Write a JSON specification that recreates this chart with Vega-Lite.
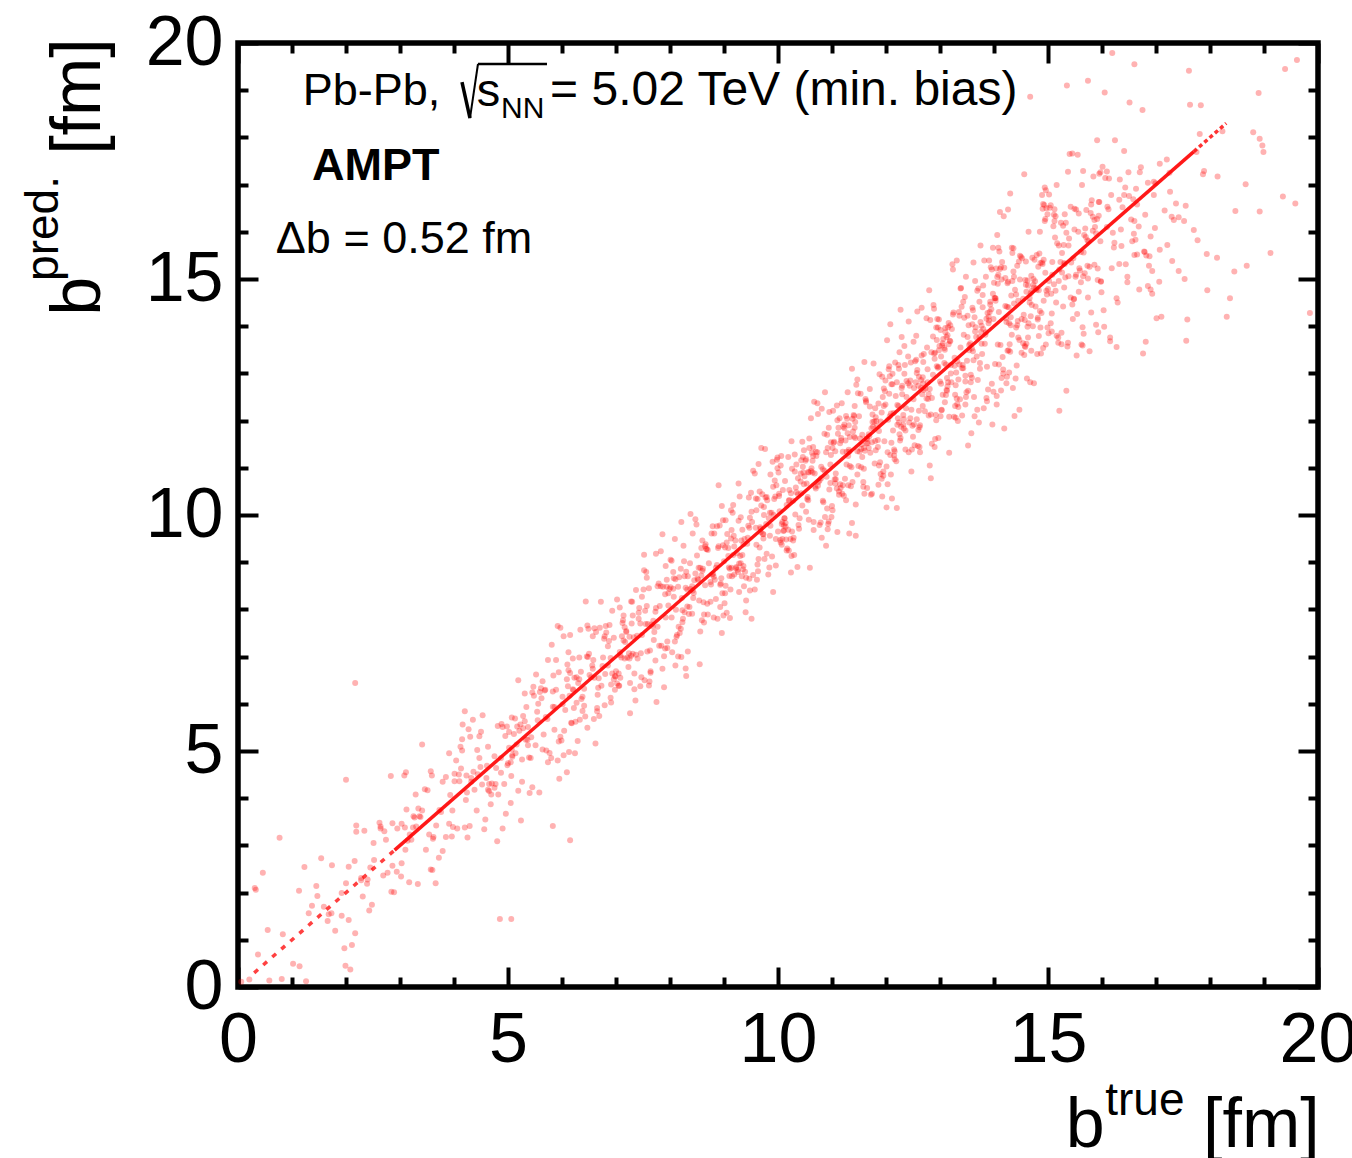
{
  "$schema": "https://vega.github.io/schema/vega-lite/v6.json",
  "width": 1080,
  "height": 944,
  "autosize": "none",
  "padding": {"left": 238, "top": 43, "right": 34, "bottom": 171},
  "background": "white",
  "config": {
    "font": "Liberation Sans",
    "view": {"stroke": "black", "strokeWidth": 5.5},
    "axis": {"grid": false, "domain": false, "title": null, "tickColor": "black", "tickWidth": 4, "labelColor": "black"}
  },
  "resolve": {"axis": {"x": "independent", "y": "independent"}},
  "datasets": {
    "pts": [
      {"t":0.37,"p":0.69},{"t":0.81,"p":0.17},{"t":0.06,"p":0.11},{"t":0.55,"p":1.21},
      {"t":1.92,"p":1.51},{"t":1.23,"p":2.54},{"t":1.68,"p":1.54},{"t":1.14,"p":0.44},{"t":1.47,"p":1.93},{"t":1.99,"p":0.45},{"t":1.31,"p":1.56},{"t":1.74,"p":2.58},{"t":1.02,"p":0.49},{"t":1.59,"p":1.7},
      {"t":2.86,"p":2.57},{"t":2.19,"p":3.29},{"t":2.43,"p":1.62},{"t":2.71,"p":3.3},{"t":2.28,"p":2.26},{"t":2.95,"p":3.36},{"t":2.11,"p":0.89},{"t":2.64,"p":3.36},{"t":2.39,"p":2.19},{"t":2.83,"p":4.47},{"t":2.05,"p":1.42},{"t":2.52,"p":2.69},{"t":2.77,"p":2.42},{"t":2.34,"p":3.31},{"t":2.16,"p":2.67},{"t":2.89,"p":2.01},{"t":2.45,"p":2.53},
      {"t":3.61,"p":3.14},{"t":3.08,"p":4.48},{"t":3.97,"p":3.74},{"t":3.25,"p":3.62},{"t":3.57,"p":2.49},{"t":3.73,"p":3.75},{"t":3.12,"p":3.76},{"t":3.48,"p":2.91},{"t":3.91,"p":4.95},{"t":3.21,"p":3.12},{"t":3.66,"p":2.2},{"t":3.03,"p":3.46},{"t":3.38,"p":3.6},{"t":3.85,"p":3.18},{"t":3.29,"p":4.08},{"t":3.54,"p":3.23},{"t":3.79,"p":4.35},{"t":3.17,"p":2.22},{"t":3.93,"p":4.07},{"t":3.41,"p":5.14},{"t":3.62,"p":3.18},{"t":3.09,"p":3.38},{"t":3.76,"p":3.71},{"t":3.33,"p":2.18},
      {"t":4.88,"p":5.57},{"t":4.22,"p":3.96},{"t":4.5,"p":5.41},{"t":4.69,"p":4.08},{"t":4.01,"p":4.36},{"t":4.44,"p":4.51},{"t":4.96,"p":3.67},{"t":4.27,"p":5.46},{"t":4.6,"p":4.43},{"t":4.13,"p":4.63},{"t":4.82,"p":4.08},{"t":4.36,"p":4.56},{"t":4.7,"p":4.31},{"t":4.04,"p":4.8},{"t":4.58,"p":3.55},{"t":4.9,"p":5.51},{"t":4.24,"p":4.12},{"t":4.47,"p":4.85},{"t":4.8,"p":3.09},{"t":4.15,"p":5.01},{"t":4.65,"p":4.15},{"t":4.32,"p":4.35},{"t":4.98,"p":5.52},{"t":4.2,"p":3.38},{"t":4.53,"p":5.76},{"t":4.87,"p":4.54},{"t":4.1,"p":4.36},{"t":4.42,"p":3.74},{"t":4.75,"p":4.89},{"t":4.3,"p":5.3},{"t":4.63,"p":4.18},
      {"t":5.07,"p":5.03},{"t":5.94,"p":6.67},{"t":5.26,"p":4.35},{"t":5.56,"p":6.0},{"t":5.37,"p":5.12},{"t":5.81,"p":7.25},{"t":5.06,"p":4.47},{"t":5.55,"p":5.65},{"t":5.92,"p":4.8},{"t":5.23,"p":5.56},{"t":5.68,"p":6.28},{"t":5.14,"p":4.95},{"t":5.47,"p":6.36},{"t":5.99,"p":5.22},{"t":5.31,"p":5.63},{"t":5.74,"p":4.76},{"t":5.02,"p":5.07},{"t":5.59,"p":6.25},{"t":5.86,"p":5.45},{"t":5.19,"p":6.5},{"t":5.43,"p":5.29},{"t":5.71,"p":5.01},{"t":5.28,"p":5.74},{"t":5.95,"p":4.41},{"t":5.11,"p":5.36},{"t":5.64,"p":6.48},{"t":5.39,"p":4.86},{"t":5.83,"p":5.94},{"t":5.05,"p":4.76},{"t":5.52,"p":6.62},{"t":5.77,"p":4.96},{"t":5.34,"p":5.93},{"t":5.16,"p":5.14},{"t":5.89,"p":6.3},{"t":5.45,"p":4.23},{"t":5.61,"p":6.33},{"t":5.08,"p":4.88},{"t":5.97,"p":7.61},
      {"t":6.25,"p":5.62},{"t":6.57,"p":6.74},{"t":6.73,"p":6.38},{"t":6.12,"p":7.09},{"t":6.48,"p":6.99},{"t":6.91,"p":6.03},{"t":6.21,"p":6.29},{"t":6.66,"p":6.19},{"t":6.03,"p":7.43},{"t":6.38,"p":6.15},{"t":6.85,"p":7.22},{"t":6.29,"p":5.21},{"t":6.54,"p":6.56},{"t":6.79,"p":7.43},{"t":6.17,"p":5.6},{"t":6.93,"p":7.97},{"t":6.41,"p":6.32},{"t":6.62,"p":5.16},{"t":6.09,"p":6.52},{"t":6.76,"p":6.98},{"t":6.33,"p":5.66},{"t":6.88,"p":7.67},{"t":6.22,"p":5.91},{"t":6.5,"p":7.06},{"t":6.69,"p":5.74},{"t":6.01,"p":6.15},{"t":6.44,"p":8.17},{"t":6.96,"p":6.52},{"t":6.27,"p":6.56},{"t":6.6,"p":6.55},{"t":6.13,"p":4.98},{"t":6.82,"p":7.51},{"t":6.36,"p":6.1},{"t":6.7,"p":7.61},{"t":6.04,"p":5.43},{"t":6.58,"p":6.93},{"t":6.9,"p":6.97},{"t":6.24,"p":4.95},{"t":6.47,"p":7.66},{"t":6.8,"p":6.63},{"t":6.15,"p":6.65},{"t":6.65,"p":5.91},{"t":6.32,"p":6.52},{"t":6.98,"p":6.59},{"t":6.2,"p":6.96},
      {"t":7.53,"p":6.5},{"t":7.87,"p":8.48},{"t":7.1,"p":6.98},{"t":7.42,"p":7.8},{"t":7.75,"p":6.04},{"t":7.3,"p":8.16},{"t":7.63,"p":7.13},{"t":7.07,"p":7.1},{"t":7.94,"p":8.48},{"t":7.26,"p":6.44},{"t":7.56,"p":8.79},{"t":7.37,"p":7.04},{"t":7.81,"p":8.07},{"t":7.06,"p":6.38},{"t":7.55,"p":7.69},{"t":7.92,"p":8.92},{"t":7.23,"p":6.78},{"t":7.68,"p":7.64},{"t":7.14,"p":7.87},{"t":7.47,"p":6.56},{"t":7.99,"p":8.43},{"t":7.31,"p":7.06},{"t":7.74,"p":9.18},{"t":7.02,"p":6.43},{"t":7.59,"p":7.69},{"t":7.86,"p":6.74},{"t":7.19,"p":7.52},{"t":7.43,"p":8.03},{"t":7.71,"p":7.52},{"t":7.28,"p":8.17},{"t":7.95,"p":7.18},{"t":7.11,"p":7.43},{"t":7.64,"p":6.66},{"t":7.39,"p":7.44},{"t":7.83,"p":8.49},{"t":7.05,"p":6.64},{"t":7.52,"p":8.83},{"t":7.77,"p":7.63},{"t":7.34,"p":6.64},{"t":7.16,"p":7.62},{"t":7.89,"p":6.35},{"t":7.45,"p":7.7},{"t":7.61,"p":8.45},{"t":7.08,"p":6.55},{"t":7.97,"p":8.08},{"t":7.25,"p":6.96},{"t":7.57,"p":8.67},{"t":7.73,"p":6.92},{"t":7.12,"p":7.71},{"t":7.48,"p":7.46},{"t":7.91,"p":8.32},
      {"t":8.21,"p":6.99},{"t":8.66,"p":9.38},{"t":8.03,"p":7.83},{"t":8.38,"p":10.02},{"t":8.85,"p":8.22},{"t":8.29,"p":8.46},{"t":8.54,"p":8.19},{"t":8.79,"p":9.76},{"t":8.17,"p":8.68},{"t":8.93,"p":8.05},{"t":8.41,"p":8.49},{"t":8.62,"p":8.15},{"t":8.09,"p":9.49},{"t":8.76,"p":8.53},{"t":8.33,"p":8.7},{"t":8.88,"p":7.8},{"t":8.22,"p":8.24},{"t":8.5,"p":9.14},{"t":8.69,"p":8.12},{"t":8.01,"p":9.05},{"t":8.44,"p":8.35},{"t":8.96,"p":7.5},{"t":8.27,"p":8.7},{"t":8.6,"p":8.82},{"t":8.13,"p":7.46},{"t":8.82,"p":9.61},{"t":8.36,"p":8.05},{"t":8.7,"p":9.26},{"t":8.04,"p":7.09},{"t":8.58,"p":8.72},{"t":8.9,"p":10.63},{"t":8.24,"p":7.8},{"t":8.47,"p":8.76},{"t":8.8,"p":8.75},{"t":8.15,"p":7.0},{"t":8.65,"p":9.34},{"t":8.32,"p":8.06},{"t":8.98,"p":9.89},{"t":8.2,"p":7.59},{"t":8.53,"p":8.88},{"t":8.87,"p":8.94},{"t":8.1,"p":6.81},{"t":8.42,"p":9.61},{"t":8.75,"p":8.58},{"t":8.3,"p":8.8},{"t":8.63,"p":7.89},{"t":8.07,"p":8.27},{"t":8.94,"p":8.55},{"t":8.26,"p":9.02},{"t":8.56,"p":7.53},{"t":8.37,"p":8.98},{"t":8.81,"p":8.69},{"t":8.06,"p":8.44},{"t":8.55,"p":6.84},{"t":8.92,"p":9.78},{"t":8.23,"p":7.73},
      {"t":9.68,"p":9.71},{"t":9.14,"p":9.68},{"t":9.47,"p":8.65},{"t":9.99,"p":11.22},{"t":9.31,"p":8.98},{"t":9.74,"p":10.0},{"t":9.02,"p":8.34},{"t":9.59,"p":9.73},{"t":9.86,"p":10.86},{"t":9.19,"p":8.74},{"t":9.43,"p":9.39},{"t":9.71,"p":10.44},{"t":9.28,"p":8.37},{"t":9.95,"p":10.39},{"t":9.11,"p":8.86},{"t":9.64,"p":11.08},{"t":9.39,"p":8.8},{"t":9.83,"p":9.93},{"t":9.05,"p":7.93},{"t":9.52,"p":9.85},{"t":9.77,"p":10.37},{"t":9.34,"p":9.15},{"t":9.16,"p":10.05},{"t":9.89,"p":9.12},{"t":9.45,"p":9.77},{"t":9.61,"p":8.63},{"t":9.08,"p":9.13},{"t":9.97,"p":10.63},{"t":9.25,"p":8.84},{"t":9.57,"p":10.88},{"t":9.73,"p":9.59},{"t":9.12,"p":8.42},{"t":9.48,"p":9.94},{"t":9.91,"p":8.37},{"t":9.21,"p":9.46},{"t":9.66,"p":10.5},{"t":9.03,"p":8.5},{"t":9.38,"p":9.49},{"t":9.85,"p":9.56},{"t":9.29,"p":10.39},{"t":9.54,"p":8.73},{"t":9.79,"p":10.38},{"t":9.17,"p":9.15},{"t":9.93,"p":10.34},{"t":9.41,"p":8.19},{"t":9.62,"p":10.34},{"t":9.09,"p":8.89},{"t":9.76,"p":11.4},{"t":9.33,"p":8.7},{"t":9.88,"p":10.05},{"t":9.22,"p":8.87},{"t":9.5,"p":10.47},{"t":9.69,"p":10.2},{"t":9.01,"p":8.13},{"t":9.44,"p":9.52},{"t":9.96,"p":9.49},{"t":9.27,"p":10.67},{"t":9.6,"p":9.37},{"t":9.13,"p":9.5},{"t":9.82,"p":8.74},{"t":9.36,"p":9.38},
      {"t":10.7,"p":11.34},{"t":10.04,"p":9.47},{"t":10.58,"p":11.62},{"t":10.9,"p":10.81},{"t":10.24,"p":8.78},{"t":10.47,"p":10.9},{"t":10.8,"p":11.02},{"t":10.15,"p":9.48},{"t":10.65,"p":11.44},{"t":10.32,"p":10.01},{"t":10.98,"p":11.54},{"t":10.2,"p":9.25},{"t":10.53,"p":10.67},{"t":10.87,"p":12.6},{"t":10.1,"p":9.66},{"t":10.42,"p":10.71},{"t":10.75,"p":10.7},{"t":10.3,"p":9.15},{"t":10.63,"p":11.32},{"t":10.07,"p":9.81},{"t":10.94,"p":11.85},{"t":10.26,"p":9.65},{"t":10.56,"p":10.91},{"t":10.37,"p":10.44},{"t":10.81,"p":9.52},{"t":10.06,"p":11.25},{"t":10.55,"p":10.38},{"t":10.92,"p":11.42},{"t":10.23,"p":9.49},{"t":10.68,"p":10.88},{"t":10.14,"p":9.75},{"t":10.46,"p":11.23},{"t":10.99,"p":9.96},{"t":10.31,"p":10.92},{"t":10.74,"p":10.62},{"t":10.02,"p":10.4},{"t":10.59,"p":8.88},{"t":10.86,"p":11.72},{"t":10.19,"p":9.69},{"t":10.43,"p":10.46},{"t":10.71,"p":11.25},{"t":10.28,"p":9.46},{"t":10.95,"p":12.18},{"t":10.11,"p":9.78},{"t":10.64,"p":10.9},{"t":10.39,"p":9.71},{"t":10.83,"p":10.97},{"t":10.05,"p":11.05},{"t":10.52,"p":10.07},{"t":10.77,"p":10.73},{"t":10.34,"p":11.07},{"t":10.16,"p":9.25},{"t":10.89,"p":11.33},{"t":10.45,"p":10.2},{"t":10.61,"p":12.05},{"t":10.08,"p":9.49},{"t":10.97,"p":11.07},{"t":10.25,"p":9.13},{"t":10.57,"p":10.9},{"t":10.73,"p":11.33},{"t":10.12,"p":9.93},{"t":10.48,"p":11.37},{"t":10.91,"p":10.14},{"t":10.21,"p":10.53},{"t":10.66,"p":9.68},{"t":10.03,"p":10.08},
      {"t":11.38,"p":12.04},{"t":11.85,"p":11.44},{"t":11.29,"p":12.6},{"t":11.54,"p":11.4},{"t":11.79,"p":11.09},{"t":11.17,"p":11.63},{"t":11.93,"p":10.39},{"t":11.41,"p":11.66},{"t":11.62,"p":12.46},{"t":11.09,"p":10.56},{"t":11.76,"p":11.87},{"t":11.33,"p":11.04},{"t":11.88,"p":12.98},{"t":11.22,"p":10.41},{"t":11.5,"p":12.09},{"t":11.69,"p":11.67},{"t":11.01,"p":11.42},{"t":11.44,"p":10.22},{"t":11.96,"p":12.68},{"t":11.27,"p":11.07},{"t":11.6,"p":13.24},{"t":11.13,"p":10.5},{"t":11.82,"p":11.99},{"t":11.36,"p":11.01},{"t":11.7,"p":12.67},{"t":11.04,"p":11.55},{"t":11.58,"p":10.7},{"t":11.9,"p":11.98},{"t":11.24,"p":10.77},{"t":11.47,"p":12.87},{"t":11.8,"p":11.57},{"t":11.15,"p":11.52},{"t":11.65,"p":10.57},{"t":11.32,"p":11.34},{"t":11.98,"p":12.62},{"t":11.2,"p":10.63},{"t":11.53,"p":12.57},{"t":11.87,"p":11.78},{"t":11.1,"p":9.64},{"t":11.42,"p":11.85},{"t":11.75,"p":11.97},{"t":11.3,"p":10.63},{"t":11.63,"p":12.42},{"t":11.07,"p":10.76},{"t":11.94,"p":12.5},{"t":11.26,"p":10.31},{"t":11.56,"p":11.7},{"t":11.37,"p":13.1},{"t":11.81,"p":11.37},{"t":11.06,"p":11.35},{"t":11.55,"p":11.5},{"t":11.92,"p":10.77},{"t":11.23,"p":11.92},{"t":11.68,"p":11.42},{"t":11.14,"p":12.05},{"t":11.47,"p":10.86},{"t":11.99,"p":12.34},{"t":11.31,"p":11.38},{"t":11.74,"p":10.45},{"t":11.02,"p":12.21},{"t":11.59,"p":11.42},{"t":11.86,"p":12.36},{"t":11.19,"p":10.45},{"t":11.43,"p":11.63},{"t":11.71,"p":11.32},{"t":11.28,"p":12.04},{"t":11.95,"p":10.92},{"t":11.11,"p":11.72},{"t":11.64,"p":11.52},{"t":11.39,"p":11.77},
      {"t":12.83,"p":10.78},{"t":12.05,"p":13.09},{"t":12.52,"p":11.92},{"t":12.77,"p":12.81},{"t":12.34,"p":12.99},{"t":12.16,"p":11.18},{"t":12.89,"p":14.37},{"t":12.45,"p":12.05},{"t":12.61,"p":12.93},{"t":12.08,"p":11.27},{"t":12.97,"p":13.14},{"t":12.25,"p":13.45},{"t":12.57,"p":12.03},{"t":12.73,"p":12.68},{"t":12.12,"p":12.99},{"t":12.48,"p":11.39},{"t":12.91,"p":13.44},{"t":12.21,"p":11.91},{"t":12.66,"p":14.39},{"t":12.03,"p":11.33},{"t":12.38,"p":12.5},{"t":12.85,"p":11.51},{"t":12.29,"p":12.69},{"t":12.54,"p":13.26},{"t":12.79,"p":12.56},{"t":12.17,"p":13.23},{"t":12.93,"p":12.01},{"t":12.41,"p":12.79},{"t":12.62,"p":11.44},{"t":12.09,"p":12.15},{"t":12.76,"p":13.55},{"t":12.33,"p":11.83},{"t":12.88,"p":14.45},{"t":12.22,"p":12.05},{"t":12.5,"p":11.66},{"t":12.69,"p":13.24},{"t":12.01,"p":10.16},{"t":12.44,"p":12.74},{"t":12.96,"p":13.97},{"t":12.27,"p":11.63},{"t":12.6,"p":12.74},{"t":12.13,"p":11.79},{"t":12.82,"p":14.13},{"t":12.36,"p":11.39},{"t":12.7,"p":13.41},{"t":12.04,"p":12.02},{"t":12.58,"p":13.07},{"t":12.9,"p":11.44},{"t":12.24,"p":13.1},{"t":12.47,"p":12.23},{"t":12.8,"p":14.76},{"t":12.15,"p":11.39},{"t":12.65,"p":12.86},{"t":12.32,"p":11.91},{"t":12.98,"p":14.14},{"t":12.2,"p":12.81},{"t":12.53,"p":11.48},{"t":12.87,"p":12.97},{"t":12.1,"p":11.53},{"t":12.42,"p":14.1},{"t":12.75,"p":12.47},{"t":12.3,"p":12.74},{"t":12.63,"p":11.33},{"t":12.07,"p":12.09},{"t":12.94,"p":13.71},{"t":12.26,"p":11.58},{"t":12.56,"p":13.8},{"t":12.37,"p":12.26},{"t":12.81,"p":11.05},{"t":12.06,"p":12.57},{"t":12.55,"p":12.81},{"t":12.92,"p":12.12},{"t":12.23,"p":13.18},{"t":12.68,"p":12.31},
      {"t":13.14,"p":13.81},{"t":13.47,"p":12.34},{"t":13.99,"p":14.15},{"t":13.31,"p":15.39},{"t":13.74,"p":13.22},{"t":13.02,"p":13.36},{"t":13.59,"p":13.53},{"t":13.86,"p":12.48},{"t":13.19,"p":14.02},{"t":13.43,"p":13.11},{"t":13.71,"p":14.8},{"t":13.28,"p":12.55},{"t":13.95,"p":14.36},{"t":13.11,"p":13.19},{"t":13.64,"p":12.09},{"t":13.39,"p":14.81},{"t":13.83,"p":13.63},{"t":13.05,"p":13.64},{"t":13.52,"p":12.63},{"t":13.77,"p":14.01},{"t":13.34,"p":12.87},{"t":13.16,"p":14.07},{"t":13.89,"p":12.66},{"t":13.45,"p":14.18},{"t":13.61,"p":13.47},{"t":13.08,"p":13.54},{"t":13.97,"p":11.92},{"t":13.25,"p":14.29},{"t":13.57,"p":12.97},{"t":13.73,"p":13.77},{"t":13.12,"p":13.77},{"t":13.48,"p":12.5},{"t":13.91,"p":15.39},{"t":13.21,"p":12.81},{"t":13.66,"p":13.98},{"t":13.03,"p":12.22},{"t":13.38,"p":13.55},{"t":13.85,"p":15.05},{"t":13.29,"p":12.75},{"t":13.54,"p":13.49},{"t":13.79,"p":14.66},{"t":13.17,"p":12.08},{"t":13.93,"p":14.46},{"t":13.41,"p":13.11},{"t":13.62,"p":15.35},{"t":13.09,"p":12.39},{"t":13.76,"p":13.88},{"t":13.33,"p":11.99},{"t":13.88,"p":14.28},{"t":13.22,"p":13.94},{"t":13.5,"p":13.27},{"t":13.69,"p":14.75},{"t":13.01,"p":12.09},{"t":13.44,"p":13.82},{"t":13.96,"p":12.78},{"t":13.27,"p":13.33},{"t":13.6,"p":14.39},{"t":13.13,"p":12.63},{"t":13.82,"p":15.39},{"t":13.36,"p":13.19},{"t":13.7,"p":12.86},{"t":13.04,"p":13.59},{"t":13.58,"p":11.73},{"t":13.9,"p":14.2},{"t":13.24,"p":14.25},{"t":13.47,"p":12.83},{"t":13.8,"p":13.94},{"t":13.15,"p":12.81},{"t":13.65,"p":14.96},{"t":13.32,"p":12.35},{"t":13.98,"p":14.69},{"t":13.2,"p":13.18},{"t":13.53,"p":14.02},{"t":13.87,"p":12.41},{"t":13.1,"p":13.96},{"t":13.42,"p":13.18},{"t":13.75,"p":15.71},
      {"t":14.3,"p":13.46},{"t":14.63,"p":14.86},{"t":14.07,"p":13.61},{"t":14.94,"p":16.23},{"t":14.26,"p":14.94},{"t":14.56,"p":13.39},{"t":14.37,"p":14.48},{"t":14.81,"p":14.18},{"t":14.06,"p":15.93},{"t":14.55,"p":14.24},{"t":14.92,"p":15.41},{"t":14.23,"p":12.79},{"t":14.68,"p":14.7},{"t":14.14,"p":14.99},{"t":14.47,"p":13.71},{"t":14.99,"p":16.37},{"t":14.31,"p":14.19},{"t":14.74,"p":12.79},{"t":14.02,"p":14.59},{"t":14.59,"p":14.88},{"t":14.86,"p":13.97},{"t":14.19,"p":15.24},{"t":14.43,"p":14.02},{"t":14.71,"p":15.45},{"t":14.28,"p":13.02},{"t":14.95,"p":15.13},{"t":14.11,"p":16.42},{"t":14.64,"p":14.06},{"t":14.39,"p":14.77},{"t":14.83,"p":14.76},{"t":14.05,"p":12.52},{"t":14.52,"p":15.44},{"t":14.77,"p":14.42},{"t":14.34,"p":15.55},{"t":14.16,"p":13.35},{"t":14.89,"p":15.35},{"t":14.45,"p":14.54},{"t":14.61,"p":12.89},{"t":14.08,"p":15.66},{"t":14.97,"p":14.75},{"t":14.25,"p":14.91},{"t":14.57,"p":13.58},{"t":14.73,"p":15.0},{"t":14.12,"p":13.6},{"t":14.48,"p":15.49},{"t":14.91,"p":13.54},{"t":14.21,"p":15.02},{"t":14.66,"p":14.5},{"t":14.03,"p":14.54},{"t":14.38,"p":12.1},{"t":14.85,"p":16.0},{"t":14.29,"p":13.62},{"t":14.54,"p":14.58},{"t":14.79,"p":15.51},{"t":14.17,"p":13.08},{"t":14.93,"p":16.57},{"t":14.41,"p":13.97},{"t":14.62,"p":14.97},{"t":14.09,"p":13.19},{"t":14.76,"p":14.95},{"t":14.33,"p":15.66},{"t":14.88,"p":14.28},{"t":14.22,"p":14.17},{"t":14.5,"p":15.47},{"t":14.69,"p":13.48},{"t":14.01,"p":14.6},{"t":14.44,"p":14.11},{"t":14.96,"p":16.88},{"t":14.27,"p":13.49},{"t":14.6,"p":14.73},{"t":14.13,"p":12.64},{"t":14.82,"p":15.26},{"t":14.36,"p":15.16},{"t":14.7,"p":14.45},{"t":14.04,"p":15.22},{"t":14.58,"p":13.56},{"t":14.9,"p":15.32},{"t":14.24,"p":12.93},
      {"t":15.47,"p":15.44},{"t":15.8,"p":16.58},{"t":15.15,"p":14.5},{"t":15.65,"p":17.29},{"t":15.32,"p":15.03},{"t":15.98,"p":14.95},{"t":15.2,"p":15.71},{"t":15.53,"p":13.38},{"t":15.87,"p":16.1},{"t":15.1,"p":16.12},{"t":15.42,"p":14.61},{"t":15.75,"p":15.8},{"t":15.3,"p":14.82},{"t":15.63,"p":16.99},{"t":15.07,"p":13.89},{"t":15.94,"p":16.63},{"t":15.26,"p":15.14},{"t":15.56,"p":16.0},{"t":15.37,"p":13.65},{"t":15.81,"p":16.67},{"t":15.06,"p":14.69},{"t":15.55,"p":17.63},{"t":15.92,"p":14.98},{"t":15.23,"p":15.36},{"t":15.68,"p":15.12},{"t":15.14,"p":16.33},{"t":15.49,"p":16.05},{"t":15.99,"p":14.72},{"t":15.31,"p":15.32},{"t":15.74,"p":15.01},{"t":15.02,"p":16.79},{"t":15.59,"p":15.18},{"t":15.86,"p":16.25},{"t":15.19,"p":13.65},{"t":15.43,"p":15.35},{"t":15.71,"p":16.46},{"t":15.28,"p":14.42},{"t":15.95,"p":17.23},{"t":15.11,"p":14.89},{"t":15.64,"p":13.59},{"t":15.39,"p":15.86},{"t":15.83,"p":16.02},{"t":15.05,"p":14.06},{"t":15.52,"p":16.47},{"t":15.77,"p":15.26},{"t":15.34,"p":15.98},{"t":15.16,"p":13.8},{"t":15.89,"p":15.97},{"t":15.45,"p":17.66},{"t":15.61,"p":14.93},{"t":15.08,"p":15.36},{"t":15.97,"p":15.8},{"t":15.25,"p":13.62},{"t":15.57,"p":16.39},{"t":15.73,"p":15.28},{"t":15.12,"p":16.23},{"t":15.48,"p":14.57},{"t":15.91,"p":16.27},{"t":15.21,"p":15.2},{"t":15.66,"p":13.84},{"t":15.03,"p":16.51},{"t":15.38,"p":15.06},
      {"t":16.85,"p":17.04},{"t":16.29,"p":14.5},{"t":16.54,"p":16.26},{"t":16.79,"p":15.57},{"t":16.17,"p":16.78},{"t":16.93,"p":14.69},{"t":16.41,"p":16.78},{"t":16.62,"p":15.83},{"t":16.09,"p":16.1},{"t":16.76,"p":13.42},{"t":16.33,"p":17.11},{"t":16.88,"p":15.48},{"t":16.22,"p":15.67},{"t":16.5,"p":16.76},{"t":16.69,"p":14.78},{"t":16.01,"p":17.38},{"t":16.44,"p":15.31},{"t":16.96,"p":16.78},{"t":16.27,"p":14.59},{"t":16.6,"p":16.23},{"t":16.13,"p":17.13},{"t":16.82,"p":15.5},{"t":16.36,"p":15.7},{"t":16.7,"p":17.26},{"t":16.04,"p":13.99},{"t":16.58,"p":16.69},{"t":16.9,"p":15.9},{"t":16.24,"p":17.94},{"t":16.47,"p":14.93},{"t":16.8,"p":16.36},{"t":16.15,"p":13.76},{"t":16.65,"p":16.58},{"t":16.32,"p":16.68},{"t":16.98,"p":16.08},
      {"t":17.2,"p":17.53},{"t":17.53,"p":15.0},{"t":17.87,"p":17.22},{"t":17.1,"p":14.2},{"t":17.42,"p":16.31},{"t":17.75,"p":17.69},{"t":17.3,"p":15.38},{"t":17.63,"p":18.69},{"t":17.07,"p":15.62},{"t":17.94,"p":15.53},{"t":17.26,"p":16.85},{"t":17.56,"p":13.69},{"t":17.37,"p":16.6},{"t":17.81,"p":18.07},{"t":17.06,"p":14.94},{"t":17.55,"p":16.55},
      {"t":18.92,"p":16.43},{"t":18.23,"p":18.13},{"t":18.68,"p":15.28},{"t":18.14,"p":17.17},{"t":18.47,"p":16.44},{"t":18.99,"p":17.69},{"t":18.31,"p":14.2},
      {"t":19.35,"p":16.75},{"t":19.58,"p":16.6},{"t":19.85,"p":14.28},
      {"t":0.33,"p":2.06},{"t":0.58,"p":0.14},{"t":0.83,"p":1.12},{"t":0.21,"p":0.16},
      {"t":1.97,"p":0.82},{"t":1.45,"p":2.14},{"t":1.66,"p":1.4},{"t":1.13,"p":2.04},{"t":1.8,"p":1.19},{"t":1.37,"p":1.72},{"t":1.92,"p":1.99},{"t":1.26,"p":0.12},{"t":1.54,"p":2.73},{"t":1.73,"p":1.56},
      {"t":2.05,"p":2.55},{"t":2.48,"p":1.74},{"t":2.0,"p":2.2},{"t":2.31,"p":1.92},{"t":2.64,"p":3.4},{"t":2.17,"p":1.14},{"t":2.86,"p":3.47},{"t":2.4,"p":2.28},{"t":2.74,"p":3.12},{"t":2.08,"p":0.37},{"t":2.62,"p":3.48},{"t":2.94,"p":2.44},{"t":2.28,"p":2.31},{"t":2.51,"p":3.05},{"t":2.84,"p":2.02},{"t":2.19,"p":3.42},{"t":2.69,"p":2.36},
      {"t":3.36,"p":3.62},{"t":3.02,"p":2.34},{"t":3.24,"p":3.38},{"t":3.57,"p":4.57},{"t":3.91,"p":3.46},{"t":3.14,"p":3.1},{"t":3.46,"p":4.19},{"t":3.79,"p":2.88},{"t":3.34,"p":3.78},{"t":3.67,"p":3.42},{"t":3.11,"p":4.55},{"t":3.98,"p":3.39},{"t":3.3,"p":3.4},{"t":3.6,"p":2.48},{"t":3.41,"p":3.74},{"t":3.85,"p":4.45},{"t":3.1,"p":2.91},{"t":3.59,"p":4.48},{"t":3.96,"p":3.19},{"t":3.27,"p":3.59},{"t":3.72,"p":2.74},{"t":3.18,"p":3.23},{"t":3.51,"p":4.17},{"t":3.03,"p":2.62},
      {"t":4.35,"p":5.66},{"t":4.78,"p":4.64},{"t":4.06,"p":3.36},{"t":4.63,"p":5.09},{"t":4.9,"p":3.36},{"t":4.23,"p":4.48},{"t":4.47,"p":5.31},{"t":4.75,"p":4.22},{"t":4.32,"p":4.43},{"t":4.99,"p":4.7},{"t":4.15,"p":5.25},{"t":4.68,"p":3.87},{"t":4.43,"p":5.02},{"t":4.87,"p":4.85},{"t":4.09,"p":4.5},{"t":4.56,"p":3.34},{"t":4.81,"p":5.53},{"t":4.38,"p":4.18},{"t":4.2,"p":5.84},{"t":4.93,"p":4.3},{"t":4.49,"p":4.66},{"t":4.65,"p":4.3},{"t":4.12,"p":5.09},{"t":4.01,"p":4.52},{"t":4.29,"p":3.41},{"t":4.61,"p":4.69},{"t":4.77,"p":4.3},{"t":4.16,"p":5.56},{"t":4.52,"p":4.29},{"t":4.95,"p":5.32},{"t":4.25,"p":3.17},
      {"t":5.7,"p":5.72},{"t":5.07,"p":5.71},{"t":5.42,"p":4.85},{"t":5.89,"p":6.93},{"t":5.33,"p":5.24},{"t":5.58,"p":4.12},{"t":5.83,"p":6.26},{"t":5.21,"p":5.43},{"t":5.97,"p":5.3},{"t":5.45,"p":6.24},{"t":5.66,"p":5.35},{"t":5.13,"p":5.69},{"t":5.8,"p":4.85},{"t":5.37,"p":5.51},{"t":5.92,"p":7.65},{"t":5.26,"p":4.82},{"t":5.54,"p":5.83},{"t":5.73,"p":5.68},{"t":5.05,"p":3.9},{"t":5.48,"p":6.17},{"t":5.0,"p":4.74},{"t":5.31,"p":6.22},{"t":5.64,"p":5.03},{"t":5.17,"p":5.52},{"t":5.86,"p":5.93},{"t":5.4,"p":4.11},{"t":5.74,"p":6.93},{"t":5.08,"p":4.91},{"t":5.62,"p":6.12},{"t":5.94,"p":5.2},{"t":5.28,"p":5.48},{"t":5.51,"p":5.12},{"t":5.84,"p":6.6},{"t":5.19,"p":4.16},{"t":5.69,"p":6.3},{"t":5.36,"p":5.24},{"t":5.02,"p":5.4},{"t":5.24,"p":3.53},
      {"t":6.57,"p":7.43},{"t":6.91,"p":6.41},{"t":6.14,"p":6.17},{"t":6.46,"p":7.0},{"t":6.79,"p":5.97},{"t":6.34,"p":7.57},{"t":6.67,"p":6.34},{"t":6.11,"p":6.37},{"t":6.98,"p":6.3},{"t":6.3,"p":6.44},{"t":6.6,"p":7.6},{"t":6.41,"p":5.96},{"t":6.85,"p":6.81},{"t":6.1,"p":6.83},{"t":6.59,"p":5.68},{"t":6.96,"p":7.4},{"t":6.27,"p":6.02},{"t":6.72,"p":8.16},{"t":6.18,"p":5.59},{"t":6.51,"p":6.61},{"t":6.03,"p":4.91},{"t":6.35,"p":6.68},{"t":6.78,"p":7.38},{"t":6.06,"p":5.87},{"t":6.63,"p":7.52},{"t":6.9,"p":6.13},{"t":6.23,"p":6.55},{"t":6.47,"p":5.49},{"t":6.75,"p":6.8},{"t":6.32,"p":6.98},{"t":6.99,"p":6.58},{"t":6.15,"p":7.46},{"t":6.68,"p":6.54},{"t":6.43,"p":5.73},{"t":6.87,"p":7.33},{"t":6.09,"p":4.55},{"t":6.56,"p":6.81},{"t":6.81,"p":7.65},{"t":6.38,"p":5.85},{"t":6.2,"p":6.31},{"t":6.93,"p":6.64},{"t":6.49,"p":7.59},{"t":6.65,"p":5.84},{"t":6.12,"p":6.71},{"t":6.01,"p":5.99},
      {"t":7.29,"p":7.7},{"t":7.61,"p":6.39},{"t":7.77,"p":8.49},{"t":7.16,"p":6.96},{"t":7.52,"p":9.16},{"t":7.95,"p":7.32},{"t":7.25,"p":7.42},{"t":7.7,"p":7.35},{"t":7.07,"p":8.04},{"t":7.42,"p":7.93},{"t":7.89,"p":7.01},{"t":7.33,"p":7.41},{"t":7.58,"p":7.11},{"t":7.83,"p":9.23},{"t":7.21,"p":6.98},{"t":7.97,"p":8.34},{"t":7.45,"p":6.37},{"t":7.66,"p":7.68},{"t":7.13,"p":7.77},{"t":7.8,"p":7.23},{"t":7.37,"p":8.41},{"t":7.92,"p":7.83},{"t":7.26,"p":5.8},{"t":7.54,"p":7.97},{"t":7.73,"p":7.95},{"t":7.05,"p":6.38},{"t":7.48,"p":8.27},{"t":7.0,"p":6.69},{"t":7.31,"p":7.87},{"t":7.64,"p":6.69},{"t":7.17,"p":7.31},{"t":7.86,"p":9.59},{"t":7.4,"p":6.96},{"t":7.74,"p":8.03},{"t":7.08,"p":7.03},{"t":7.62,"p":6.47},{"t":7.94,"p":8.63},{"t":7.28,"p":7.02},{"t":7.51,"p":8.42},{"t":7.84,"p":7.23},{"t":7.19,"p":7.54},{"t":7.69,"p":7.76},{"t":7.36,"p":6.07},{"t":7.02,"p":8.21},{"t":7.24,"p":7.07},{"t":7.57,"p":8.07},{"t":7.91,"p":7.17},{"t":7.14,"p":7.34},{"t":7.46,"p":7.07},{"t":7.79,"p":8.55},{"t":7.34,"p":6.31},
      {"t":8.67,"p":9.28},{"t":8.11,"p":7.99},{"t":8.98,"p":9.36},{"t":8.3,"p":6.59},{"t":8.6,"p":9.46},{"t":8.41,"p":7.91},{"t":8.85,"p":8.88},{"t":8.1,"p":8.64},{"t":8.59,"p":7.77},{"t":8.96,"p":10.19},{"t":8.27,"p":7.94},{"t":8.72,"p":8.98},{"t":8.18,"p":7.5},{"t":8.51,"p":8.65},{"t":8.03,"p":9.03},{"t":8.35,"p":7.9},{"t":8.78,"p":8.74},{"t":8.06,"p":8.79},{"t":8.63,"p":7.72},{"t":8.9,"p":9.34},{"t":8.23,"p":7.98},{"t":8.47,"p":9.91},{"t":8.75,"p":8.16},{"t":8.32,"p":8.42},{"t":8.99,"p":7.87},{"t":8.15,"p":8.48},{"t":8.68,"p":9.28},{"t":8.43,"p":8.24},{"t":8.87,"p":9.76},{"t":8.09,"p":7.32},{"t":8.56,"p":8.88},{"t":8.81,"p":7.83},{"t":8.38,"p":8.43},{"t":8.2,"p":8.86},{"t":8.93,"p":8.52},{"t":8.49,"p":9.8},{"t":8.65,"p":8.51},{"t":8.12,"p":7.42},{"t":8.01,"p":8.47},{"t":8.29,"p":6.75},{"t":8.61,"p":8.86},{"t":8.77,"p":9.61},{"t":8.16,"p":7.63},{"t":8.52,"p":8.63},{"t":8.95,"p":8.66},{"t":8.25,"p":9.35},{"t":8.7,"p":7.89},{"t":8.07,"p":8.66},{"t":8.42,"p":8.4},{"t":8.89,"p":9.3},{"t":8.33,"p":7.11},{"t":8.58,"p":9.3},{"t":8.83,"p":8.63},{"t":8.21,"p":9.85},{"t":8.97,"p":8.34},{"t":8.45,"p":8.62},
      {"t":9.66,"p":9.31},{"t":9.13,"p":10.1},{"t":9.8,"p":10.31},{"t":9.37,"p":8.49},{"t":9.92,"p":10.0},{"t":9.26,"p":8.79},{"t":9.54,"p":10.94},{"t":9.73,"p":9.5},{"t":9.05,"p":9.42},{"t":9.48,"p":8.4},{"t":9.0,"p":9.02},{"t":9.31,"p":9.95},{"t":9.64,"p":9.07},{"t":9.17,"p":10.21},{"t":9.86,"p":9.77},{"t":9.4,"p":7.94},{"t":9.74,"p":10.17},{"t":9.08,"p":9.3},{"t":9.62,"p":8.95},{"t":9.94,"p":10.73},{"t":9.28,"p":8.97},{"t":9.51,"p":10.07},{"t":9.84,"p":8.89},{"t":9.19,"p":9.33},{"t":9.69,"p":11.42},{"t":9.36,"p":8.92},{"t":9.02,"p":9.31},{"t":9.24,"p":9.19},{"t":9.57,"p":8.42},{"t":9.91,"p":10.6},{"t":9.14,"p":8.88},{"t":9.46,"p":10.37},{"t":9.79,"p":9.18},{"t":9.34,"p":9.69},{"t":9.67,"p":9.74},{"t":9.11,"p":7.82},{"t":9.98,"p":11.17},{"t":9.3,"p":9.13},{"t":9.6,"p":10.1},{"t":9.41,"p":8.67},{"t":9.85,"p":10.05},{"t":9.1,"p":8.71},{"t":9.59,"p":10.35},{"t":9.96,"p":8.93},{"t":9.27,"p":9.88},{"t":9.72,"p":9.6},{"t":9.18,"p":9.56},{"t":9.51,"p":7.8},{"t":9.03,"p":9.89},{"t":9.35,"p":8.85},{"t":9.78,"p":9.81},{"t":9.06,"p":9.6},{"t":9.63,"p":8.81},{"t":9.9,"p":11.13},{"t":9.23,"p":8.9},{"t":9.47,"p":9.73},{"t":9.75,"p":9.07},{"t":9.32,"p":9.46},{"t":9.99,"p":10.99},{"t":9.15,"p":8.7},{"t":9.68,"p":9.64},
      {"t":10.43,"p":11.16},{"t":10.87,"p":9.96},{"t":10.09,"p":10.53},{"t":10.56,"p":10.31},{"t":10.81,"p":12.25},{"t":10.38,"p":9.79},{"t":10.2,"p":10.3},{"t":10.93,"p":9.81},{"t":10.49,"p":10.82},{"t":10.65,"p":11.25},{"t":10.12,"p":9.93},{"t":10.01,"p":10.9},{"t":10.29,"p":9.52},{"t":10.61,"p":10.93},{"t":10.77,"p":9.79},{"t":10.16,"p":10.21},{"t":10.52,"p":11.18},{"t":10.95,"p":10.54},{"t":10.25,"p":11.56},{"t":10.7,"p":10.56},{"t":10.07,"p":9.37},{"t":10.42,"p":10.88},{"t":10.89,"p":9.35},{"t":10.33,"p":10.58},{"t":10.58,"p":11.42},{"t":10.83,"p":10.3},{"t":10.21,"p":10.32},{"t":10.97,"p":10.68},{"t":10.45,"p":11.55},{"t":10.66,"p":9.85},{"t":10.13,"p":10.72},{"t":10.8,"p":10.78},{"t":10.37,"p":10.78},{"t":10.92,"p":9.7},{"t":10.26,"p":10.98},{"t":10.54,"p":10.34},{"t":10.73,"p":12.37},{"t":10.05,"p":9.42},{"t":10.48,"p":10.65},{"t":10.0,"p":9.65},{"t":10.31,"p":11.28},{"t":10.64,"p":11.15},{"t":10.17,"p":9.29},{"t":10.86,"p":10.94},{"t":10.4,"p":9.93},{"t":10.74,"p":12.14},{"t":10.08,"p":9.85},{"t":10.62,"p":10.99},{"t":10.94,"p":9.86},{"t":10.28,"p":10.3},{"t":10.51,"p":11.15},{"t":10.84,"p":10.27},{"t":10.19,"p":11.23},{"t":10.69,"p":10.6},{"t":10.36,"p":8.9},{"t":10.02,"p":10.45},{"t":10.24,"p":10.46},{"t":10.57,"p":9.9},{"t":10.91,"p":11.7},{"t":10.14,"p":9.83},{"t":10.46,"p":11.02},{"t":10.79,"p":9.84},{"t":10.34,"p":10.48},{"t":10.67,"p":12.4},{"t":10.11,"p":9.67},{"t":10.98,"p":11.27},
      {"t":11.3,"p":11.25},{"t":11.6,"p":10.45},{"t":11.41,"p":12.1},{"t":11.85,"p":11.59},{"t":11.1,"p":12.01},{"t":11.59,"p":10.98},{"t":11.96,"p":12.31},{"t":11.27,"p":11.34},{"t":11.72,"p":10.43},{"t":11.18,"p":12.37},{"t":11.51,"p":11.34},{"t":11.03,"p":11.53},{"t":11.35,"p":10.61},{"t":11.78,"p":11.98},{"t":11.06,"p":10.67},{"t":11.63,"p":12.39},{"t":11.9,"p":10.87},{"t":11.23,"p":11.84},{"t":11.47,"p":11.35},{"t":11.75,"p":12.13},{"t":11.32,"p":9.61},{"t":11.99,"p":12.85},{"t":11.15,"p":10.65},{"t":11.68,"p":11.71},{"t":11.43,"p":11.97},{"t":11.87,"p":11.05},{"t":11.09,"p":12.32},{"t":11.56,"p":11.23},{"t":11.81,"p":12.07},{"t":11.38,"p":10.7},{"t":11.2,"p":11.34},{"t":11.93,"p":12.93},{"t":11.49,"p":11.04},{"t":11.65,"p":11.61},{"t":11.12,"p":11.85},{"t":11.01,"p":10.1},{"t":11.29,"p":11.73},{"t":11.61,"p":11.36},{"t":11.77,"p":13.21},{"t":11.16,"p":10.57},{"t":11.52,"p":11.62},{"t":11.95,"p":10.83},{"t":11.25,"p":11.58},{"t":11.7,"p":12.3},{"t":11.07,"p":10.88},{"t":11.42,"p":12.31},{"t":11.89,"p":11.12},{"t":11.33,"p":11.65},{"t":11.58,"p":10.6},{"t":11.83,"p":11.88},{"t":11.21,"p":11.87},{"t":11.97,"p":11.56},{"t":11.45,"p":12.76},{"t":11.66,"p":11.52},{"t":11.13,"p":10.43},{"t":11.8,"p":12.26},{"t":11.37,"p":9.83},{"t":11.92,"p":12.17},{"t":11.26,"p":12.1},{"t":11.54,"p":11.01},{"t":11.73,"p":11.84},{"t":11.05,"p":10.76},{"t":11.48,"p":12.58},{"t":11.0,"p":10.19},{"t":11.31,"p":11.9},{"t":11.64,"p":11.62},{"t":11.17,"p":11.58},{"t":11.86,"p":10.64},{"t":11.4,"p":12.12},{"t":11.74,"p":11.54},
      {"t":12.08,"p":14.04},{"t":12.62,"p":11.86},{"t":12.94,"p":13.15},{"t":12.28,"p":11.87},{"t":12.51,"p":13.67},{"t":12.84,"p":13.45},{"t":12.19,"p":11.14},{"t":12.69,"p":12.79},{"t":12.36,"p":11.79},{"t":12.02,"p":13.7},{"t":12.24,"p":11.96},{"t":12.57,"p":13.01},{"t":12.91,"p":11.61},{"t":12.14,"p":12.16},{"t":12.46,"p":13.23},{"t":12.79,"p":12.11},{"t":12.34,"p":13.58},{"t":12.67,"p":12.56},{"t":12.11,"p":10.35},{"t":12.98,"p":13.49},{"t":12.3,"p":12.56},{"t":12.6,"p":11.8},{"t":12.41,"p":13.36},{"t":12.85,"p":12.48},{"t":12.1,"p":12.77},{"t":12.59,"p":11.46},{"t":12.96,"p":13.12},{"t":12.27,"p":14.35},{"t":12.72,"p":12.2},{"t":12.18,"p":12.52},{"t":12.51,"p":12.45},{"t":12.03,"p":10.65},{"t":12.35,"p":13.18},{"t":12.78,"p":12.46},{"t":12.06,"p":13.15},{"t":12.63,"p":11.9},{"t":12.9,"p":13.31},{"t":12.23,"p":12.31},{"t":12.47,"p":10.92},{"t":12.75,"p":14.17},{"t":12.32,"p":12.12},{"t":12.99,"p":13.58},{"t":12.15,"p":11.26},{"t":12.68,"p":12.92},{"t":12.43,"p":11.96},{"t":12.87,"p":13.78},{"t":12.09,"p":10.86},{"t":12.56,"p":13.29},{"t":12.81,"p":12.67},{"t":12.38,"p":12.84},{"t":12.2,"p":10.15},{"t":12.93,"p":13.97},{"t":12.49,"p":11.89},{"t":12.65,"p":12.69},{"t":12.12,"p":12.77},{"t":12.01,"p":11.03},{"t":12.29,"p":13.77},{"t":12.61,"p":12.21},{"t":12.77,"p":13.09},{"t":12.16,"p":11.35},{"t":12.52,"p":12.69},{"t":12.95,"p":14.15},{"t":12.25,"p":11.71},{"t":12.7,"p":12.65},{"t":12.07,"p":12.94},{"t":12.42,"p":11.33},{"t":12.89,"p":13.42},{"t":12.33,"p":12.03},{"t":12.58,"p":14.31},{"t":12.83,"p":12.13},{"t":12.21,"p":12.33},{"t":12.97,"p":11.63},{"t":12.45,"p":12.85},{"t":12.66,"p":13.38},
      {"t":13.13,"p":12.9},{"t":13.8,"p":14.86},{"t":13.37,"p":12.45},{"t":13.92,"p":14.3},{"t":13.26,"p":12.08},{"t":13.54,"p":13.6},{"t":13.73,"p":14.52},{"t":13.05,"p":12.55},{"t":13.48,"p":15.05},{"t":13.0,"p":12.83},{"t":13.31,"p":12.47},{"t":13.64,"p":14.19},{"t":13.17,"p":11.32},{"t":13.86,"p":14.16},{"t":13.4,"p":14.41},{"t":13.74,"p":13.1},{"t":13.08,"p":13.22},{"t":13.62,"p":13.28},{"t":13.94,"p":15.25},{"t":13.28,"p":12.31},{"t":13.51,"p":14.22},{"t":13.84,"p":13.82},{"t":13.19,"p":13.68},{"t":13.69,"p":12.23},{"t":13.36,"p":14.22},{"t":13.02,"p":12.78},{"t":13.24,"p":15.2},{"t":13.57,"p":12.81},{"t":13.91,"p":14.12},{"t":13.14,"p":12.73},{"t":13.46,"p":14.62},{"t":13.79,"p":14.4},{"t":13.34,"p":12.29},{"t":13.67,"p":13.77},{"t":13.11,"p":12.54},{"t":13.98,"p":15.66},{"t":13.3,"p":13.02},{"t":13.6,"p":14.04},{"t":13.41,"p":12.11},{"t":13.85,"p":13.87},{"t":13.1,"p":13.87},{"t":13.59,"p":12.91},{"t":13.96,"p":15.2},{"t":13.27,"p":13.16},{"t":13.72,"p":11.96},{"t":13.18,"p":13.69},{"t":13.51,"p":13.77},{"t":13.03,"p":12.23},{"t":13.35,"p":14.3},{"t":13.78,"p":13.41},{"t":13.06,"p":13.73},{"t":13.63,"p":12.5},{"t":13.9,"p":14.06},{"t":13.23,"p":15.31},{"t":13.47,"p":12.95},{"t":13.75,"p":14.09},{"t":13.32,"p":13.26},{"t":13.99,"p":12.61},{"t":13.15,"p":13.98},{"t":13.68,"p":13.36},{"t":13.43,"p":14.52},{"t":13.87,"p":13.14},{"t":13.09,"p":13.5},{"t":13.56,"p":13.64},{"t":13.81,"p":12.26},{"t":13.38,"p":14.8},{"t":13.2,"p":13.0},{"t":13.93,"p":14.52},{"t":13.49,"p":12.6},{"t":13.65,"p":13.89},{"t":13.12,"p":12.65},{"t":13.01,"p":13.92},{"t":13.29,"p":12.06},{"t":13.61,"p":14.34},{"t":13.77,"p":13.63},{"t":13.16,"p":13.62},{"t":13.52,"p":11.47},
      {"t":14.95,"p":16.27},{"t":14.25,"p":13.48},{"t":14.7,"p":14.75},{"t":14.07,"p":14.9},{"t":14.42,"p":13.17},{"t":14.89,"p":16.78},{"t":14.33,"p":13.82},{"t":14.58,"p":14.98},{"t":14.83,"p":13.79},{"t":14.21,"p":14.43},{"t":14.97,"p":16.5},{"t":14.45,"p":13.76},{"t":14.66,"p":14.6},{"t":14.13,"p":15.25},{"t":14.8,"p":13.41},{"t":14.37,"p":15.05},{"t":14.92,"p":14.54},{"t":14.26,"p":16.47},{"t":14.54,"p":13.64},{"t":14.73,"p":14.88},{"t":14.05,"p":12.34},{"t":14.48,"p":14.99},{"t":14.0,"p":14.92},{"t":14.31,"p":14.02},{"t":14.64,"p":16.0},{"t":14.17,"p":13.0},{"t":14.86,"p":15.34},{"t":14.4,"p":12.89},{"t":14.74,"p":14.82},{"t":14.08,"p":15.09},{"t":14.62,"p":13.99},{"t":14.94,"p":16.94},{"t":14.28,"p":14.06},{"t":14.51,"p":13.44},{"t":14.84,"p":15.54},{"t":14.19,"p":11.83},{"t":14.69,"p":15.07},{"t":14.36,"p":15.65},{"t":14.02,"p":13.2},{"t":14.24,"p":14.41},{"t":14.57,"p":14.13},{"t":14.91,"p":16.59},{"t":14.14,"p":12.9},{"t":14.46,"p":15.37},{"t":14.79,"p":14.77},{"t":14.34,"p":14.96},{"t":14.67,"p":12.81},{"t":14.11,"p":15.21},{"t":14.98,"p":14.67},{"t":14.3,"p":16.81},{"t":14.6,"p":13.63},{"t":14.41,"p":14.67},{"t":14.85,"p":14.32},{"t":14.1,"p":15.58},{"t":14.59,"p":15.37},{"t":14.96,"p":13.61},{"t":14.27,"p":14.4},{"t":14.72,"p":14.0},{"t":14.18,"p":16.33},{"t":14.51,"p":14.15},{"t":14.03,"p":14.59},{"t":14.35,"p":12.69},{"t":14.78,"p":14.8},{"t":14.06,"p":15.04},{"t":14.63,"p":13.76},{"t":14.9,"p":16.49},{"t":14.23,"p":14.09},{"t":14.47,"p":12.23},{"t":14.75,"p":15.41},{"t":14.32,"p":14.65},{"t":14.99,"p":13.97},{"t":14.15,"p":15.36},{"t":14.68,"p":14.21},{"t":14.43,"p":15.28},{"t":14.87,"p":13.42},{"t":14.09,"p":14.3},{"t":14.56,"p":17.22},{"t":14.81,"p":14.14},
      {"t":15.38,"p":15.71},{"t":15.2,"p":14.96},{"t":15.93,"p":13.87},{"t":15.49,"p":16.49},{"t":15.65,"p":15.06},{"t":15.12,"p":16.48},{"t":15.01,"p":13.85},{"t":15.29,"p":15.72},{"t":15.61,"p":15.57},{"t":15.77,"p":13.47},{"t":15.16,"p":16.99},{"t":15.52,"p":15.09},{"t":15.95,"p":16.63},{"t":15.25,"p":13.86},{"t":15.7,"p":15.89},{"t":15.07,"p":14.27},{"t":15.42,"p":16.53},{"t":15.89,"p":14.03},{"t":15.33,"p":16.19},{"t":15.58,"p":15.23},{"t":15.83,"p":16.32},{"t":15.21,"p":12.21},{"t":15.97,"p":17.26},{"t":15.45,"p":14.46},{"t":15.66,"p":15.56},{"t":15.13,"p":15.88},{"t":15.8,"p":14.29},{"t":15.37,"p":17.27},{"t":15.92,"p":15.22},{"t":15.26,"p":15.55},{"t":15.54,"p":14.26},{"t":15.73,"p":15.82},{"t":15.05,"p":16.56},{"t":15.48,"p":14.58},{"t":15.0,"p":14.79},{"t":15.31,"p":16.37},{"t":15.64,"p":13.98},{"t":15.17,"p":15.76},{"t":15.86,"p":15.3},{"t":15.4,"p":17.65},{"t":15.74,"p":14.61},{"t":15.08,"p":15.09},{"t":15.62,"p":13.61},{"t":15.94,"p":16.34},{"t":15.28,"p":16.13},{"t":15.51,"p":15.05},{"t":15.84,"p":17.17},{"t":15.19,"p":13.76},{"t":15.69,"p":16.07},{"t":15.36,"p":13.57},{"t":15.02,"p":14.96},{"t":15.24,"p":16.19},{"t":15.57,"p":14.73},{"t":15.91,"p":17.94},{"t":15.14,"p":14.75},{"t":15.46,"p":14.15},{"t":15.79,"p":16.4},{"t":15.34,"p":12.63},{"t":15.67,"p":15.93},{"t":15.11,"p":16.36},{"t":15.98,"p":14.94},{"t":15.3,"p":15.34},
      {"t":16.6,"p":15.51},{"t":16.41,"p":17.71},{"t":16.85,"p":14.85},{"t":16.1,"p":16.53},{"t":16.59,"p":15.96},{"t":16.96,"p":17.06},{"t":16.27,"p":13.56},{"t":16.72,"p":17.37},{"t":16.18,"p":15.23},{"t":16.51,"p":18.74},{"t":16.03,"p":14.34},{"t":16.35,"p":16.05},{"t":16.78,"p":15.58},{"t":16.06,"p":17.14},{"t":16.63,"p":16.91},{"t":16.9,"p":14.78},{"t":16.23,"p":15.77},{"t":16.47,"p":15.05},{"t":16.75,"p":18.58},{"t":16.32,"p":15.32},{"t":16.99,"p":17.03},{"t":16.15,"p":13.68},{"t":16.68,"p":16.11},{"t":16.43,"p":16.94},{"t":16.87,"p":15.28},{"t":16.09,"p":17.28},{"t":16.56,"p":15.8},{"t":16.81,"p":13.67},{"t":16.38,"p":16.52},{"t":16.2,"p":15.98},{"t":16.93,"p":15.17},{"t":16.49,"p":17.26},{"t":16.65,"p":15.52},{"t":16.12,"p":16.48},
      {"t":17.01,"p":14.17},{"t":17.29,"p":16.32},{"t":17.61,"p":19.41},{"t":17.77,"p":15.82},{"t":17.16,"p":16.45},{"t":17.52,"p":16.23},{"t":17.95,"p":14.76},{"t":17.25,"p":17.25},{"t":17.7,"p":16.04},{"t":17.07,"p":17.44},{"t":17.42,"p":15.17},{"t":17.89,"p":17.29},{"t":17.33,"p":16.25},{"t":17.58,"p":14.14},{"t":17.83,"p":18.68},{"t":17.21,"p":15.72},
      {"t":18.97,"p":17.83},{"t":18.45,"p":15.16},{"t":18.66,"p":17.01},{"t":18.13,"p":15.45},{"t":18.8,"p":18.11},{"t":18.37,"p":14.59},{"t":18.92,"p":17.97},
      {"t":19.12,"p":15.55}
    ],
    "out": [
      {"t":4.85,"p":1.44},{"t":5.06,"p":1.44},{"t":2.0,"p":4.39},{"t":2.17,"p":6.44},{"t":6.15,"p":3.11},{"t":5.83,"p":3.41},
      {"t":0.31,"p":2.1},{"t":0.46,"p":2.42},{"t":0.77,"p":3.16},{"t":11.44,"p":9.56},
      {"t":19.39,"p":19.45},{"t":19.61,"p":19.64},{"t":18.9,"p":18.94},
      {"t":14.67,"p":18.86},{"t":15.35,"p":19.1},{"t":16.05,"p":18.95},{"t":16.6,"p":19.55},{"t":16.19,"p":19.79},{"t":15.74,"p":19.2}
    ]
  },
  "layer": [
    {
      "data": {"name": "pts"},
      "mark": {"type": "circle", "size": 36, "color": "#ff0000", "opacity": 0.3},
      "encoding": {
        "x": {"field": "t", "type": "quantitative", "scale": {"domain": [0, 20], "nice": false, "zero": false},
              "axis": {"orient": "bottom", "values": [0, 5, 10, 15, 20], "ticks": false, "labelFontSize": 70, "labelPadding": 19, "labelFlush": false, "labelOverlap": false, "labelBound": false, "format": "d"}},
        "y": {"field": "p", "type": "quantitative", "scale": {"domain": [0, 20], "nice": false, "zero": false},
              "axis": {"orient": "left", "values": [0, 5, 10, 15, 20], "ticks": false, "labelFontSize": 70, "labelPadding": 15, "labelFlush": false, "labelOverlap": false, "labelBound": false, "format": "d"}}
      }
    },
    {
      "data": {"name": "out"},
      "mark": {"type": "circle", "size": 36, "color": "#ff0000", "opacity": 0.3},
      "encoding": {
        "x": {"field": "t", "type": "quantitative", "scale": {"domain": [0, 20], "nice": false, "zero": false},
              "axis": {"orient": "top", "values": [0, 5, 10, 15, 20], "labels": false, "tickSize": -20}},
        "y": {"field": "p", "type": "quantitative", "scale": {"domain": [0, 20], "nice": false, "zero": false},
              "axis": {"orient": "right", "values": [0, 5, 10, 15, 20], "labels": false, "tickSize": -20}}
      }
    },
    {
      "data": {"values": [{"t": 2.9, "p": 2.9}, {"t": 17.7, "p": 17.7}]},
      "mark": {"type": "line", "color": "#ff0000", "strokeWidth": 3.5, "opacity": 0.9},
      "encoding": {
        "x": {"field": "t", "type": "quantitative", "scale": {"domain": [0, 20], "nice": false, "zero": false},
              "axis": {"orient": "bottom", "values": [1,2,3,4,6,7,8,9,11,12,13,14,16,17,18,19], "labels": false, "tickSize": -10}},
        "y": {"field": "p", "type": "quantitative", "scale": {"domain": [0, 20], "nice": false, "zero": false},
              "axis": {"orient": "left", "values": [1,2,3,4,6,7,8,9,11,12,13,14,16,17,18,19], "labels": false, "tickSize": -10}}
      }
    },
    {
      "data": {"values": [{"t": 0.3, "p": 0.3}, {"t": 2.9, "p": 2.9}]},
      "mark": {"type": "line", "color": "#ff0000", "strokeWidth": 3.5, "opacity": 0.75, "strokeDash": [5, 7]},
      "encoding": {
        "x": {"field": "t", "type": "quantitative", "scale": {"domain": [0, 20], "nice": false, "zero": false},
              "axis": {"orient": "bottom", "values": [0, 5, 10, 15, 20], "labels": false, "tickSize": -20}},
        "y": {"field": "p", "type": "quantitative", "scale": {"domain": [0, 20], "nice": false, "zero": false},
              "axis": {"orient": "left", "values": [0, 5, 10, 15, 20], "labels": false, "tickSize": -20}}
      }
    },
    {
      "data": {"values": [{"t": 17.7, "p": 17.7}, {"t": 18.3, "p": 18.3}]},
      "mark": {"type": "line", "color": "#ff0000", "strokeWidth": 3.5, "opacity": 0.8, "strokeDash": [4, 3]},
      "encoding": {
        "x": {"field": "t", "type": "quantitative", "scale": {"domain": [0, 20], "nice": false, "zero": false},
              "axis": {"orient": "top", "values": [1,2,3,4,6,7,8,9,11,12,13,14,16,17,18,19], "labels": false, "tickSize": -10}},
        "y": {"field": "p", "type": "quantitative", "scale": {"domain": [0, 20], "nice": false, "zero": false},
              "axis": {"orient": "right", "values": [1,2,3,4,6,7,8,9,11,12,13,14,16,17,18,19], "labels": false, "tickSize": -10}}
      }
    },
    {
      "data": {"values": [{}]},
      "mark": {"type": "text", "text": "Pb-Pb,", "fontSize": 45, "align": "left", "baseline": "alphabetic", "color": "black"},
      "encoding": {"x": {"datum": 1.2, "axis": null}, "y": {"datum": 18.69, "axis": null}}
    },
    {
      "data": {"values": [{}]},
      "mark": {"type": "rule", "color": "black", "strokeWidth": 3.5},
      "encoding": {"x": {"datum": 4.148, "axis": null}, "y": {"datum": 19.17, "axis": null}, "x2": {"datum": 4.296}, "y2": {"datum": 18.41}}
    },
    {
      "data": {"values": [{}]},
      "mark": {"type": "rule", "color": "black", "strokeWidth": 2},
      "encoding": {"x": {"datum": 4.296, "axis": null}, "y": {"datum": 18.41, "axis": null}, "x2": {"datum": 4.444}, "y2": {"datum": 19.555}}
    },
    {
      "data": {"values": [{}]},
      "mark": {"type": "rule", "color": "black", "strokeWidth": 2.5},
      "encoding": {"x": {"datum": 4.444, "axis": null}, "x2": {"datum": 5.722}, "y": {"datum": 19.555, "axis": null}}
    },
    {
      "data": {"values": [{}]},
      "mark": {"type": "text", "text": "s", "fontSize": 47, "align": "left", "baseline": "alphabetic", "color": "black"},
      "encoding": {"x": {"datum": 4.42, "axis": null}, "y": {"datum": 18.66, "axis": null}}
    },
    {
      "data": {"values": [{}]},
      "mark": {"type": "text", "text": "NN", "fontSize": 30, "align": "left", "baseline": "alphabetic", "color": "black"},
      "encoding": {"x": {"datum": 4.87, "axis": null}, "y": {"datum": 18.41, "axis": null}}
    },
    {
      "data": {"values": [{}]},
      "mark": {"type": "text", "text": "= 5.02 TeV (min. bias)", "fontSize": 48, "align": "left", "baseline": "alphabetic", "color": "black"},
      "encoding": {"x": {"datum": 5.78, "axis": null}, "y": {"datum": 18.69, "axis": null}}
    },
    {
      "data": {"values": [{}]},
      "mark": {"type": "text", "text": "AMPT", "fontSize": 45, "fontWeight": "bold", "align": "left", "baseline": "alphabetic", "color": "black"},
      "encoding": {"x": {"datum": 1.37, "axis": null}, "y": {"datum": 17.1, "axis": null}}
    },
    {
      "data": {"values": [{}]},
      "mark": {"type": "text", "text": "Δb = 0.52 fm", "fontSize": 45, "align": "left", "baseline": "alphabetic", "color": "black"},
      "encoding": {"x": {"datum": 0.7, "axis": null}, "y": {"datum": 15.55, "axis": null}}
    },
    {
      "data": {"values": [{}]},
      "mark": {"type": "text", "text": "b", "fontSize": 70, "align": "left", "baseline": "alphabetic", "color": "black"},
      "encoding": {"x": {"datum": 15.33, "axis": null}, "y": {"datum": -3.39, "axis": null}}
    },
    {
      "data": {"values": [{}]},
      "mark": {"type": "text", "text": "true", "fontSize": 46, "align": "left", "baseline": "alphabetic", "color": "black"},
      "encoding": {"x": {"datum": 16.06, "axis": null}, "y": {"datum": -2.71, "axis": null}}
    },
    {
      "data": {"values": [{}]},
      "mark": {"type": "text", "text": "[fm]", "fontSize": 70, "align": "left", "baseline": "alphabetic", "color": "black"},
      "encoding": {"x": {"datum": 17.87, "axis": null}, "y": {"datum": -3.39, "axis": null}}
    },
    {
      "data": {"values": [{}]},
      "mark": {"type": "text", "text": "b", "fontSize": 70, "angle": 270, "align": "left", "baseline": "alphabetic", "color": "black"},
      "encoding": {"x": {"datum": -2.556, "axis": null}, "y": {"datum": 14.22, "axis": null}}
    },
    {
      "data": {"values": [{}]},
      "mark": {"type": "text", "text": "pred.", "fontSize": 46, "angle": 270, "align": "left", "baseline": "alphabetic", "color": "black"},
      "encoding": {"x": {"datum": -3.33, "axis": null}, "y": {"datum": 14.96, "axis": null}}
    },
    {
      "data": {"values": [{}]},
      "mark": {"type": "text", "text": "[fm]", "fontSize": 70, "angle": 270, "align": "left", "baseline": "alphabetic", "color": "black"},
      "encoding": {"x": {"datum": -2.556, "axis": null}, "y": {"datum": 17.63, "axis": null}}
    }
  ]
}
